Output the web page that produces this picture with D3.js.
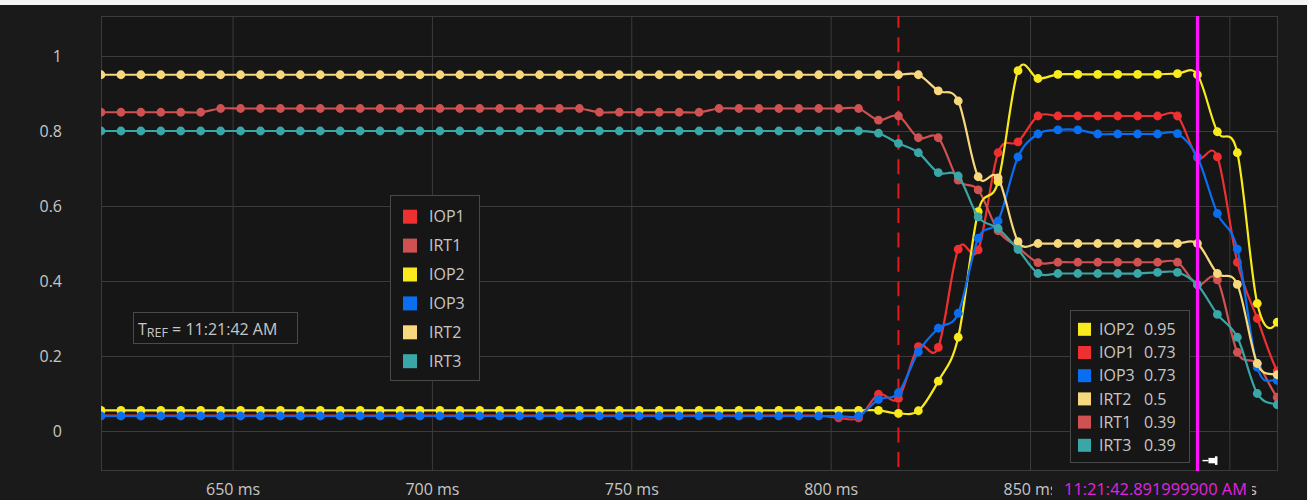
<!DOCTYPE html>
<html><head><meta charset="utf-8">
<script src="https://cdn.jsdelivr.net/npm/d3@7"></script>
<style>
html,body{margin:0;padding:0;background:#1a1a1a;overflow:hidden}
text{font-family:"Segoe UI","Open Sans","Noto Sans",sans-serif}
</style></head><body>
<svg id="c" width="1308" height="500"></svg>
<script>
// ---------------- DATA ----------------
const times = [617,622,627,632,637,642,647,652,657,662,667,672,677,682,687,692,697,702,707,712,
717,722,727,732,737,742,747,752,757,762,767,772,777,782,787,792,797,802,807,812,
817,822,827,832,837,842,847,852,857,862,867,872,877,882,887,892,897,902,907,912,917];

const IOP1 = [
0.041,0.041,0.041,0.041,0.041,0.041,0.041,0.041,0.041,0.041,
0.041,0.041,0.041,0.041,0.041,0.041,0.041,0.041,0.041,0.041,
0.041,0.041,0.041,0.041,0.041,0.041,0.041,0.041,0.041,0.041,
0.041,0.041,0.041,0.041,0.041,0.041,0.041,0.035,0.035,0.098,
0.087,0.225,0.223,0.485,0.483,0.742,0.771,0.84,0.84,0.84,
0.84,0.84,0.84,0.84,0.84,0.73,0.731,0.45,0.30,0.16,
0.10];
const IRT1 = [
0.85,0.85,0.85,0.85,0.85,0.85,0.86,0.86,0.86,0.86,
0.86,0.86,0.86,0.86,0.86,0.86,0.86,0.86,0.86,0.86,
0.86,0.86,0.86,0.86,0.86,0.85,0.85,0.85,0.85,0.85,
0.85,0.86,0.86,0.86,0.86,0.86,0.86,0.86,0.86,0.829,
0.84,0.782,0.782,0.669,0.643,0.534,0.49,0.449,0.45,0.45,
0.45,0.45,0.45,0.45,0.45,0.39,0.403,0.21,0.18,0.09,
0.05];
const IOP2 = [
0.055,0.055,0.055,0.055,0.055,0.055,0.055,0.055,0.055,0.055,
0.055,0.055,0.055,0.055,0.055,0.055,0.055,0.055,0.055,0.055,
0.055,0.055,0.055,0.055,0.055,0.055,0.055,0.055,0.055,0.055,
0.055,0.055,0.055,0.055,0.055,0.055,0.055,0.055,0.055,0.055,
0.047,0.054,0.133,0.25,0.585,0.665,0.961,0.94,0.951,0.951,
0.951,0.951,0.951,0.951,0.953,0.95,0.798,0.742,0.34,0.29,
0.5];
const IOP3 = [
0.04,0.04,0.04,0.04,0.04,0.04,0.04,0.04,0.04,0.04,
0.04,0.04,0.04,0.04,0.04,0.04,0.04,0.04,0.04,0.04,
0.04,0.04,0.04,0.04,0.04,0.04,0.04,0.04,0.04,0.04,
0.04,0.04,0.04,0.04,0.04,0.04,0.04,0.04,0.04,0.084,
0.102,0.211,0.274,0.314,0.514,0.56,0.731,0.792,0.803,0.803,
0.792,0.792,0.792,0.792,0.793,0.73,0.58,0.485,0.17,0.135,
0.13];
const IRT2 = [
0.95,0.95,0.95,0.95,0.95,0.95,0.95,0.95,0.95,0.95,
0.95,0.95,0.95,0.95,0.95,0.95,0.95,0.95,0.95,0.95,
0.95,0.95,0.95,0.95,0.95,0.95,0.95,0.95,0.95,0.95,
0.95,0.95,0.95,0.95,0.95,0.95,0.95,0.95,0.95,0.95,
0.95,0.95,0.907,0.88,0.678,0.675,0.505,0.50,0.50,0.50,
0.50,0.50,0.50,0.50,0.50,0.50,0.42,0.391,0.18,0.15,
0.14];
const IRT3 = [
0.80,0.80,0.80,0.80,0.80,0.80,0.80,0.80,0.80,0.80,
0.80,0.80,0.80,0.80,0.80,0.80,0.80,0.80,0.80,0.80,
0.80,0.80,0.80,0.80,0.80,0.80,0.80,0.80,0.80,0.80,
0.80,0.80,0.80,0.80,0.80,0.80,0.80,0.80,0.80,0.794,
0.767,0.742,0.689,0.68,0.571,0.54,0.484,0.42,0.42,0.42,
0.42,0.42,0.42,0.423,0.423,0.39,0.311,0.25,0.10,0.07,
0.06];

const seriesNames = ["IOP1","IRT1","IOP2","IOP3","IRT2","IRT3"];
const seriesValues = [IOP1, IRT1, IOP2, IOP3, IRT2, IRT3];
const seriesColors = ["#ee3030","#cf5151","#f9ea1e","#0a6ef2","#f8d87c","#39a7a8"];

const xTicks = [650,700,750,800,850,900];
const xTickLabels = ["650 ms","700 ms","750 ms","800 ms","850 ms","900 ms"];
const yTicks = [0,0.2,0.4,0.6,0.8,1];
const yTickLabels = ["0","0.2","0.4","0.6","0.8","1"];

const markerTime = 817;          // red dashed marker
const cursorTime = 892;          // magenta cursor
const cursorLabel = "11:21:42.891999900 AM";
const tRefLabel = " = 11:21:42 AM";

// ---------------- LAYOUT ----------------
const svg = d3.select("#c");
const L = 101, T = 16, R = 1278, B = 471;
const x = d3.scaleLinear().domain([617, 912.2]).range([L, R]);
const y = d3.scaleLinear().domain([0, 1]).range([431, 56]);
const textCol = "#c6c6c6", gridCol = "#3b3b3b", bg = "#161616";
const boxX0 = 1052, boxX1 = 1252;

svg.append("rect").attr("width",1308).attr("height",500).attr("fill","#1a1a1a");
svg.append("rect").attr("width",1308).attr("height",5).attr("fill","#f4f4f4");
svg.append("rect").attr("x",1307).attr("width",1).attr("height",500).attr("fill","#f4f4f4");
svg.append("rect").attr("x",L).attr("y",T).attr("width",R-L).attr("height",B-T).attr("fill",bg);

// grid
const gy = svg.append("g").attr("transform",`translate(${L},0)`)
  .call(d3.axisLeft(y).tickValues(yTicks).tickSize(-(R-L)).tickFormat(""));
const gx = svg.append("g").attr("transform",`translate(0,${B})`)
  .call(d3.axisBottom(x).tickValues(xTicks).tickSize(-(B-T)).tickFormat(""));
[gy,gx].forEach(g=>{g.select(".domain").remove(); g.selectAll("line").attr("stroke",gridCol).attr("stroke-width",1);});
svg.append("rect").attr("x",L+0.5).attr("y",T+0.5).attr("width",R-L-1).attr("height",B-T-1)
  .attr("fill","none").attr("stroke",gridCol);

// clip for x labels (cursor label box hides part of them)
const axClip = svg.append("clipPath").attr("id","axclip");
axClip.append("rect").attr("x",0).attr("y",B).attr("width",boxX0).attr("height",500-B);
axClip.append("rect").attr("x",boxX1).attr("y",B).attr("width",1308-boxX1).attr("height",500-B);

// axis labels
const ay = svg.append("g").attr("transform",`translate(${L},0)`)
  .call(d3.axisLeft(y).tickValues(yTicks).tickSize(0).tickPadding(39).tickFormat((d,i)=>yTickLabels[i]));
const axWrap = svg.append("g").attr("clip-path","url(#axclip)");
const ax = axWrap.append("g").attr("transform",`translate(0,${B})`)
  .call(d3.axisBottom(x).tickValues(xTicks).tickSize(0).tickPadding(13).tickFormat((d,i)=>xTickLabels[i]));
[ay,ax].forEach(g=>{g.select(".domain").remove();
  g.selectAll("text").attr("fill",textCol).style("font-size","16px")
   .style("font-family",'"Segoe UI","Open Sans","Noto Sans",sans-serif');});

// clip
svg.append("clipPath").attr("id","clip").append("rect")
  .attr("x",L).attr("y",T).attr("width",R-L).attr("height",B-T);
const plot = svg.append("g").attr("clip-path","url(#clip)");

// dashed marker line
plot.append("line").attr("x1",x(markerTime)).attr("x2",x(markerTime))
  .attr("y1",T).attr("y2",B-4).attr("stroke","#e3191c").attr("stroke-width",2)
  .attr("stroke-dasharray","15,9.4").attr("stroke-dashoffset",3.2);

// series
const line = d3.line().x((d,i)=>x(times[i])).y(d=>y(d)).curve(d3.curveCardinal.tension(0));
seriesValues.forEach((vals,si)=>{
  const g = plot.append("g");
  g.append("path").attr("d",line(vals)).attr("fill","none")
    .attr("stroke",seriesColors[si]).attr("stroke-width",2.2);
  g.selectAll("circle").data(vals).join("circle")
    .attr("cx",(d,i)=>x(times[i])).attr("cy",d=>y(d)).attr("r",4.4)
    .attr("fill",seriesColors[si]);
});

// cursor
svg.append("line").attr("x1",x(cursorTime)).attr("x2",x(cursorTime))
  .attr("y1",T).attr("y2",B).attr("stroke","#ff10ff").attr("stroke-width",3.2);

// pin icon
const px = x(cursorTime)+5, py = 460.5;
const pin = svg.append("g").attr("fill","#ffffff");
pin.append("rect").attr("x",px).attr("y",py-0.6).attr("width",6).attr("height",1.4);
pin.append("rect").attr("x",px+6).attr("y",py-2.6).attr("width",7).attr("height",5.4);
pin.append("rect").attr("x",px+12.5).attr("y",py-4.2).attr("width",2.5).attr("height",8.6);

// cursor time label
svg.append("rect").attr("x",boxX0).attr("y",473).attr("width",boxX1-boxX0).attr("height",27).attr("fill","#1a1a1a");
svg.append("text").attr("x",1155.5).attr("y",495).attr("text-anchor","middle")
  .attr("fill","#e223e2").style("font-size","16.4px").text(cursorLabel);

// left legend
const lg = svg.append("g");
lg.append("rect").attr("x",390.5).attr("y",195.5).attr("width",89).attr("height",185)
  .attr("fill",bg).attr("stroke","#484848");
seriesNames.forEach((n,i)=>{
  const cy = 216.7 + i*28.9;
  lg.append("rect").attr("x",403).attr("y",cy-7).attr("width",14).attr("height",14).attr("fill",seriesColors[i]);
  lg.append("text").attr("x",429).attr("y",cy+5.6).attr("fill",textCol).style("font-size","16px").text(n);
});

// TREF box
svg.append("rect").attr("x",133.5).attr("y",312.5).attr("width",164).attr("height",31)
  .attr("fill",bg).attr("stroke","#4a4a4a");
const tr = svg.append("text").attr("x",138).attr("y",335).attr("fill",textCol).style("font-size","16px");
tr.append("tspan").text("T");
tr.append("tspan").attr("dy",1.5).style("font-size","12.5px").text("REF");
tr.append("tspan").attr("dy",-1.5).text(tRefLabel);

// cursor legend (values at cursor, sorted desc)
const ci = times.indexOf(cursorTime);
const items = seriesNames.map((n,i)=>({n, c:seriesColors[i], v:+seriesValues[i][ci].toFixed(2), i}))
  .sort((a,b)=> b.v-a.v || a.i-b.i);
const rg = svg.append("g");
rg.append("rect").attr("x",1070.5).attr("y",310.5).attr("width",119).attr("height",152)
  .attr("fill",bg).attr("stroke","#484848");
items.forEach((d,k)=>{
  const cy = 329.3 + k*23.2;
  rg.append("rect").attr("x",1078).attr("y",cy-6.5).attr("width",13).attr("height",13).attr("fill",d.c);
  rg.append("text").attr("x",1099).attr("y",cy+5.6).attr("fill",textCol).style("font-size","16px").text(d.n);
  rg.append("text").attr("x",1144).attr("y",cy+5.6).attr("fill",textCol).style("font-size","16px").text(String(d.v));
});
</script>
</body></html>
